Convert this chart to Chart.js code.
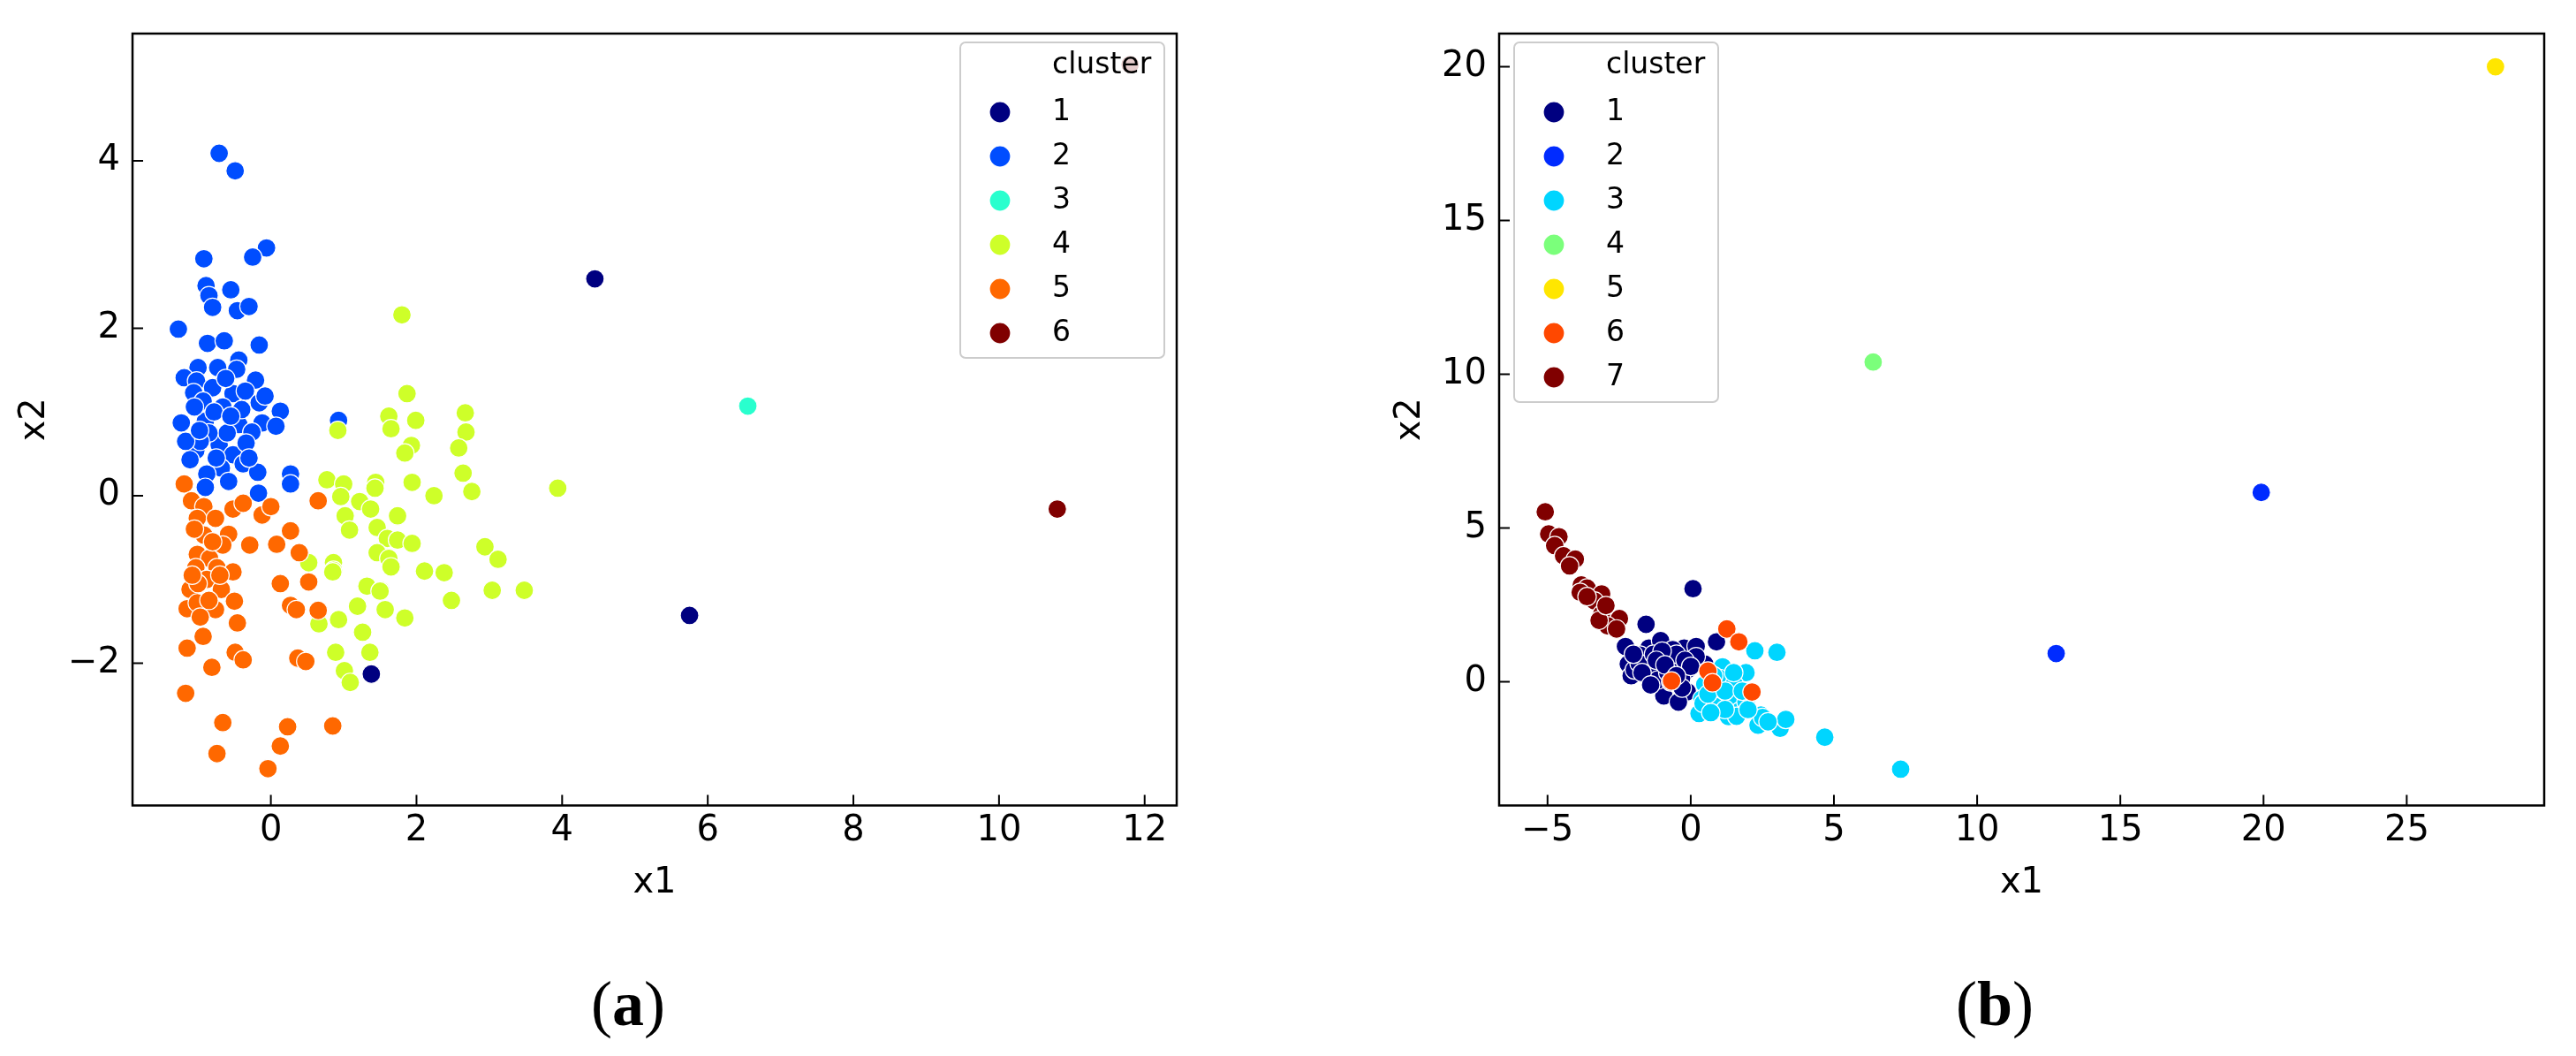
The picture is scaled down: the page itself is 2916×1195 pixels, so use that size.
<!DOCTYPE html>
<html><head><meta charset="utf-8">
<script src="https://cdn.jsdelivr.net/npm/chart.js@4.4.0/dist/chart.umd.min.js"></script>
<style>
html,body{margin:0;padding:0;background:#fff;width:2916px;height:1195px;overflow:hidden;}
canvas{position:absolute;top:0;}
#ca{left:0}#cb{left:1458px}
.lab{position:absolute;width:200px;text-align:center;font-family:'Liberation Serif',serif;font-size:72px;line-height:72px;top:1100px;color:#000}
</style></head><body>
<canvas id="ca" width="1458" height="1195"></canvas>
<canvas id="cb" width="1458" height="1195"></canvas>
<div class="lab" style="left:611px">(<b>a</b>)</div>
<div class="lab" style="left:2158px">(<b>b</b>)</div>
<script>
// ---------- panel (a) data ----------
const aLabels = ['1','2','3','4','5','6'];
const aColors = ['#000080','#004dff','#29ffce','#ceff29','#ff6800','#800000'];
const aXTicks = [0,2,4,6,8,10,12];
const aYTicks = [-2,0,2,4];
const aC1 = [[4.45,2.59],[5.75,-1.43],[1.38,-2.13]];
const aC2 = [[-0.71,4.09],[-0.49,3.88],[-0.06,2.96],[-0.25,2.85],[-0.92,2.83],
 [-0.89,2.51],[-0.85,2.39],[-0.55,2.46],[-0.80,2.25],[-0.46,2.21],[-0.30,2.26],[-1.27,1.99],[-0.87,1.82],[-0.64,1.85],[-0.16,1.80],
 [-0.44,1.62],[-1.00,1.53],[-0.73,1.53],[-0.47,1.51],[-1.19,1.41],[-1.02,1.37],[-0.21,1.38],[-0.80,1.29],[-1.06,1.23],[-0.52,1.22],
 [-0.35,1.25],[-0.93,1.13],[-0.66,1.06],[-0.16,1.11],[0.13,1.01],[0.93,0.90],[-1.23,0.87],[-0.90,0.89],[-0.44,0.85],[-0.12,0.87],
 [-0.26,0.76],[0.07,0.83],[-0.71,0.61],[-1.03,0.54],[-0.52,0.49],[-0.34,0.63],[-1.11,0.43],[-0.68,0.33],[-0.88,0.26],[-0.38,0.38],
 [-0.18,0.28],[0.27,0.26],[0.27,0.14],[-0.90,0.10],[-0.58,0.17],[-0.17,0.03],[-0.60,0.75],[-0.85,0.75],[-0.97,0.65],[-1.17,0.65],
 [-0.40,1.03],[-1.05,1.06],[-0.08,1.19],[-0.62,1.40],[-0.78,1.00],[-0.55,0.95],[-0.30,0.45],[-0.75,0.45],[-0.98,0.78]];
const aC3 = [[6.55,1.07]];
const aC4 = [[1.80,2.16],[1.87,1.22],[1.62,0.95],[1.65,0.80],[1.99,0.90],[2.67,0.99],[2.68,0.76],[1.93,0.60],[1.84,0.51],[2.58,0.57],
 [2.64,0.27],[2.76,0.05],[1.94,0.16],[2.24,0.00],[3.94,0.09],[0.77,0.19],[1.00,0.14],[1.44,0.16],[1.43,0.09],[0.96,-0.01],
 [1.22,-0.07],[1.37,-0.16],[1.02,-0.24],[1.74,-0.24],[1.08,-0.41],[1.46,-0.38],[1.60,-0.51],[1.74,-0.53],[1.94,-0.57],[1.46,-0.68],
 [1.62,-0.75],[1.65,-0.85],[2.94,-0.61],[3.12,-0.76],[0.52,-0.80],[0.86,-0.80],[0.86,-0.89],[2.11,-0.90],[2.38,-0.92],[1.32,-1.08],
 [1.51,-1.13],[3.04,-1.13],[3.48,-1.13],[2.48,-1.25],[1.19,-1.32],[1.57,-1.36],[1.84,-1.46],[0.93,-1.48],[0.66,-1.53],[1.26,-1.63],
 [0.89,-1.87],[1.36,-1.87],[1.01,-2.09],[1.09,-2.23],[0.92,0.78],[1.50,-1.14],[0.85,-0.91]];
const aC5 = [[-1.19,0.14],[-1.09,-0.06],[-0.92,-0.13],[-1.01,-0.27],[-0.76,-0.27],[-0.52,-0.16],[-0.38,-0.09],[-0.12,-0.23],[0.00,-0.13],[0.65,-0.06],
 [-0.92,-0.47],[-0.58,-0.46],[-0.66,-0.59],[-1.01,-0.70],[-0.84,-0.75],[-0.29,-0.59],[0.08,-0.58],[0.27,-0.42],[0.39,-0.68],[-1.03,-0.86],
 [-0.74,-0.86],[-0.52,-0.91],[-0.88,-1.00],[-0.68,-1.12],[-1.11,-1.12],[-0.50,-1.26],[-1.15,-1.35],[-1.01,-1.28],[-0.76,-1.36],[-0.97,-1.45],
 [-0.46,-1.52],[-0.93,-1.68],[-1.15,-1.82],[-0.49,-1.87],[-0.38,-1.96],[-0.81,-2.05],[-1.17,-2.36],[0.13,-1.05],[0.52,-1.03],[0.27,-1.31],
 [0.35,-1.36],[0.65,-1.37],[0.37,-1.94],[0.48,-1.98],[-0.66,-2.71],[0.23,-2.76],[0.85,-2.75],[0.13,-2.99],[-0.74,-3.08],[-0.04,-3.26],
 [-1.05,-0.40],[-0.80,-0.55],[-1.00,-1.05],[-0.85,-1.25],[-1.08,-0.95],[-0.70,-0.95]];
const aC6 = [[10.8,-0.16],[11.8,5.15]];

// ---------- panel (b) data ----------
const bLabels = ['1','2','3','4','5','6','7'];
const bColors = ['#000080','#002bff','#00d5ff','#7bff7b','#ffe600','#ff4800','#800000'];
const bXTicks = [-5,0,5,10,15,20,25];
const bYTicks = [0,5,10,15,20];
const bC1 = [[0.08,3.03],[-1.56,1.87],[-2.28,1.15],[-1.46,1.10],[-1.05,1.34],[-0.23,1.10],[0.19,1.15],[0.90,1.30],[-2.18,0.58],[-1.56,0.68],
 [-0.94,0.82],[-0.63,0.54],[-1.25,0.49],[-2.08,0.20],[-1.46,0.25],[-0.12,0.39],[0.49,0.58],[-0.12,-0.32],[-0.94,-0.46],[-0.43,-0.66],
 [-1.77,0.87],[-0.63,1.05],[-1.97,0.39],[-1.15,0.06],[-0.32,0.11],[0.19,0.82],
 [-1.80,0.60],[-1.30,0.90],[-0.80,0.30],[-0.50,0.90],[-1.00,1.00],[-1.70,0.30],[-0.20,0.70],[-0.70,0.00],[-1.40,-0.10],[-0.30,-0.20],
 [-2.00,0.90],[-1.20,0.70],[0.00,0.50],[-0.90,0.55],[-0.50,0.20]];
const bC2 = [[12.76,0.92],[19.92,6.16]];
const bC3 = [[2.24,1.01],[3.01,0.96],[1.93,0.30],[1.11,0.49],[0.49,-0.08],[1.01,0.11],[1.52,-0.08],[0.39,-0.56],[0.90,-0.75],[1.52,-0.56],
 [1.73,-0.94],[1.93,-0.66],[2.45,-1.08],[3.12,-1.51],[3.32,-1.22],[0.29,-1.03],[1.32,-1.13],[2.35,-1.41],[4.68,-1.80],[7.33,-2.84],
 [0.43,-0.70],[0.85,-0.80],[1.60,-1.12],[2.51,-1.16],
 [0.60,-0.40],[1.20,-0.30],[1.80,-0.30],[2.00,-0.90],[1.20,-0.90],[0.70,-1.00],[2.70,-1.30],[1.50,0.30],[0.80,0.20]];
const bC4 = [[6.37,10.40]];
const bC5 = [[28.1,20.0]];
const bC6 = [[1.26,1.72],[1.68,1.30],[-0.67,0.03],[0.60,0.35],[0.76,-0.03],[2.14,-0.33]];
const bC7 = [[-5.08,5.53],[-4.96,4.81],[-4.60,4.72],[-4.75,4.43],[-4.44,4.10],[-4.03,3.99],[-4.23,3.77],[-3.82,3.15],[-3.62,3.05],[-3.86,2.91],
 [-3.11,2.86],[-3.36,2.63],[-3.62,2.77],[-3.11,2.20],[-2.49,2.06],[-2.90,1.82],[-2.59,1.72],[-3.20,2.00],[-2.96,2.48]];

const FONT = "'DejaVu Sans', sans-serif";
const fmt = v => (v < 0 ? '\u2212' + Math.abs(v) : String(v));

function drawLegend(ctx, L, colors, labels) {
  ctx.save();
  const r = 6, x = L.x, y = L.y, w = L.w, h = 79 + 50 * (labels.length - 1) + 28;
  ctx.beginPath();
  ctx.moveTo(x + r, y); ctx.lineTo(x + w - r, y); ctx.arcTo(x + w, y, x + w, y + r, r);
  ctx.lineTo(x + w, y + h - r); ctx.arcTo(x + w, y + h, x + w - r, y + h, r);
  ctx.lineTo(x + r, y + h); ctx.arcTo(x, y + h, x, y + h - r, r);
  ctx.lineTo(x, y + r); ctx.arcTo(x, y, x + r, y, r); ctx.closePath();
  ctx.fillStyle = 'rgba(255,255,255,0.8)'; ctx.fill();
  ctx.strokeStyle = '#cccccc'; ctx.lineWidth = 2; ctx.stroke();
  ctx.font = '33px ' + FONT; ctx.fillStyle = '#000'; ctx.textBaseline = 'middle'; ctx.textAlign = 'left';
  ctx.fillText('cluster', x + 104, y + 26);
  labels.forEach((lab, i) => {
    const cy = y + 79 + 50 * i;
    ctx.beginPath(); ctx.arc(x + 45, cy, 12, 0, Math.PI * 2);
    ctx.fillStyle = colors[i]; ctx.fill();
    ctx.strokeStyle = '#fff'; ctx.lineWidth = 1.2; ctx.stroke();
    ctx.fillStyle = '#000'; ctx.fillText(lab, x + 104, cy);
  });
  ctx.restore();
}

const decorPlugin = {
  id: 'decor',
  afterDatasetsDraw(chart, args, opts) {
    const {ctx, chartArea: a, scales: {x, y}} = chart;
    ctx.save();
    ctx.strokeStyle = '#000'; ctx.lineWidth = 2;
    ctx.beginPath();
    x.ticks.forEach((t, i) => { const p = x.getPixelForTick(i); ctx.moveTo(p, a.bottom); ctx.lineTo(p, a.bottom - 12); });
    y.ticks.forEach((t, i) => { const p = y.getPixelForTick(i); ctx.moveTo(a.left, p); ctx.lineTo(a.left + 12, p); });
    ctx.stroke();
    ctx.lineWidth = 2.5;
    ctx.strokeRect(a.left, a.top, a.right - a.left, a.bottom - a.top);
    ctx.restore();
    drawLegend(ctx, opts.box, opts.colors, opts.labels);
  }
};

function makeChart(id, clusters, colors, labels, xr, yr, xticks, yticks, yW, yTitlePad, padRight, box) {
  const n = clusters.length;
  const datasets = clusters.map((c, k) => ({
    label: labels[k],
    data: c.map(p => ({x: p[0], y: p[1]})),
    backgroundColor: colors[k], borderColor: '#fff', borderWidth: 1.2,
    pointBackgroundColor: colors[k], pointBorderColor: '#fff', pointBorderWidth: 1.2,
    pointRadius: 10.5, pointHoverRadius: 10.5, order: n - k
  }));
  return new Chart(document.getElementById(id), {
    type: 'scatter',
    data: {datasets},
    options: {
      responsive: false, animation: false, devicePixelRatio: 1, events: [],
      layout: {padding: {left: 0, right: padRight, top: 31, bottom: 0}},
      plugins: {legend: {display: false}, tooltip: {enabled: false},
        decor: {box, colors, labels}},
      scales: {
        x: {type: 'linear', min: xr[0], max: xr[1],
          grid: {display: false, drawTicks: false}, border: {display: false},
          afterBuildTicks: s => { s.ticks = xticks.map(v => ({value: v})); },
          afterFit: s => { s.height = 283.5; },
          ticks: {font: {family: FONT, size: 40}, color: '#000', padding: 5, maxRotation: 0, autoSkip: false, callback: v => fmt(v)},
          title: {display: true, text: 'x1', font: {family: FONT, size: 40}, color: '#000', padding: {top: 0, bottom: 171}}
        },
        y: {type: 'linear', min: yr[0], max: yr[1],
          grid: {display: false, drawTicks: false}, border: {display: false},
          afterBuildTicks: s => { s.ticks = yticks.map(v => ({value: v})); },
          afterFit: s => { s.width = yW; },
          ticks: {font: {family: FONT, size: 40}, color: '#000', padding: 14, autoSkip: false, callback: v => fmt(v)},
          title: {display: true, text: 'x2', font: {family: FONT, size: 40}, color: '#000', padding: {top: yTitlePad, bottom: 0}}
        }
      }
    },
    plugins: [decorPlugin]
  });
}

makeChart('ca', [aC1, aC2, aC3, aC4, aC5, aC6], aColors, aLabels,
  [-1.90, 12.44], [-3.70, 5.52], aXTicks, aYTicks, 150, 16, 126, {x: 1087, y: 48, w: 231});
makeChart('cb', [bC1, bC2, bC3, bC4, bC5, bC6, bC7], bColors, bLabels,
  [-6.69, 29.8], [-4.02, 21.08], bXTicks, bYTicks, 239, 115, 36, {x: 256, y: 48, w: 231});
</script>
</body></html>
